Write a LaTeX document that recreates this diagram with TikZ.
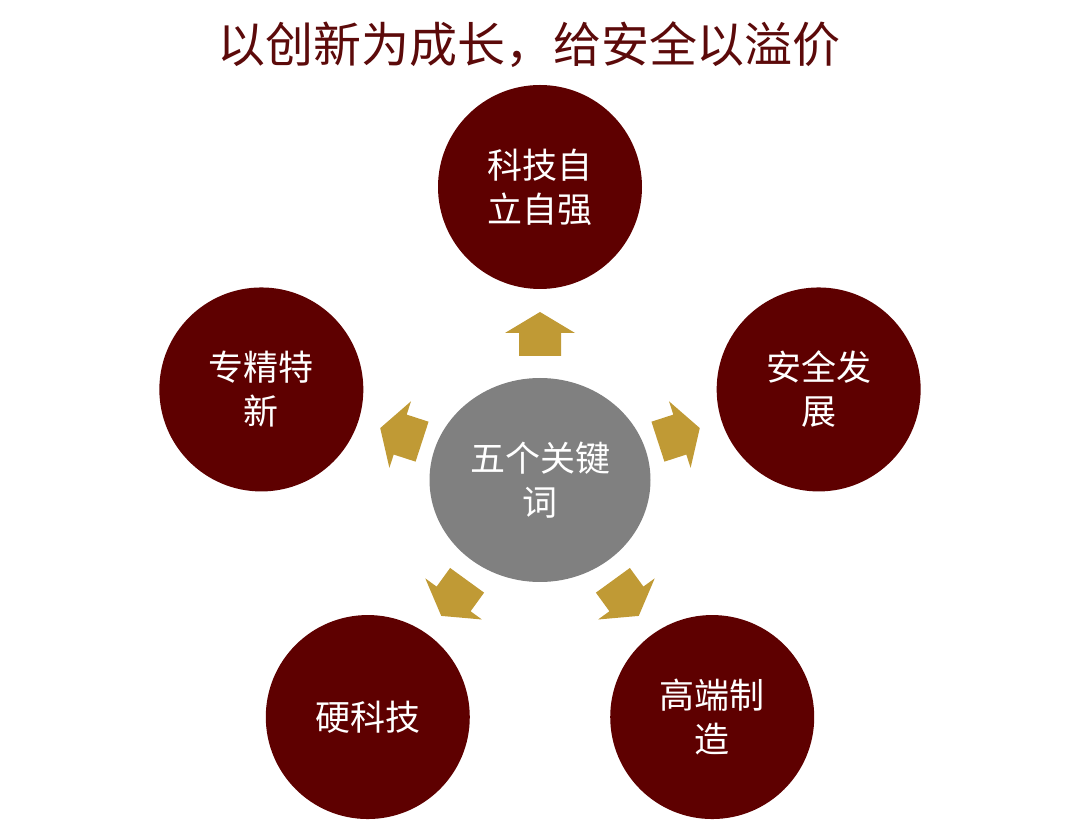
\documentclass[tikz,border=0pt]{standalone}
\usepackage{fontspec}
\newfontfamily\cjk{Noto Sans CJK SC}
\usetikzlibrary{calc}
\definecolor{darkred}{HTML}{5E0000}
\definecolor{titlered}{HTML}{5C0A0A}
\definecolor{midgray}{HTML}{808080}
\definecolor{gold}{HTML}{C09A35}
\tikzset{
  outer/.style={circle, fill=darkred, minimum size=204pt, inner sep=0pt, text=white, font=\cjk\fontsize{35}{44}\selectfont, align=center},
  hub/.style={ellipse, fill=midgray, minimum width=221pt, minimum height=204pt, inner sep=0pt, text=white, font=\cjk\fontsize{35}{44}\selectfont, align=center},
  blockarrow/.style={fill=gold, draw=none},
  titletext/.style={text=titlered, font=\cjk\fontsize{48}{52}\selectfont}
}
\usetikzlibrary{shapes.geometric}
\begin{document}
\begin{tikzpicture}[x=1pt,y=1pt]
\useasboundingbox (0,0) rectangle (1080,825);
\node[titletext] (title) at (529,780) {以创新为成长，给安全以溢价};
\coordinate (o) at (540,345);
\node[hub] (hub) at (o) {五个关键\\词};
\node[outer] (c1) at ($(o)+(90:293)$) {科技自\\立自强};
\node[outer] (c2) at ($(o)+(18:293)$) {安全发\\展};
\node[outer] (c3) at ($(o)+(162:293)$) {专精特\\新};
\node[outer] (c4) at ($(o)+(234:293)$) {硬科技};
\node[outer] (c5) at ($(o)+(306:293)$) {高端制\\造};
\foreach \a in {90,18,162,234,306}{
  \begin{scope}[shift={($(o)+(\a:146)$)}, rotate=\a]
    \fill[blockarrow] (22,0) -- (1,35) -- (1,21) -- (-22,21) -- (-22,-21) -- (1,-21) -- (1,-35) -- cycle;
  \end{scope}
}
\end{tikzpicture}
\end{document}
